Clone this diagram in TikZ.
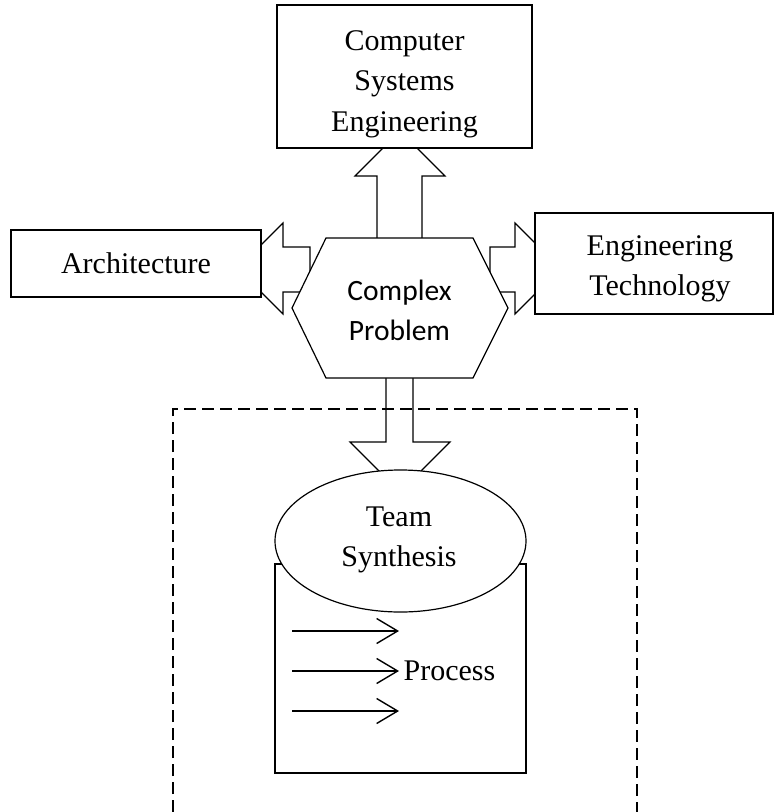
\documentclass[tikz,border=0pt]{standalone}
\usepackage{fontspec}
\setmainfont{Liberation Serif}
\newfontfamily\calibfont{Carlito}
\usetikzlibrary{arrows.meta,shapes.geometric}
\begin{document}
\begin{tikzpicture}[x=1pt,y=-1pt,line width=1.2pt,
  txt/.style={font=\fontsize{30}{40.5}\selectfont},
  boxnode/.style={draw,fill=white,inner sep=0pt,align=center,txt},
  blockarrow/.style={draw,fill=white,line join=miter},
  flowline/.style={line width=1.3pt,-{Straight Barb[length=21pt,width=25pt,line width=1.4pt]}},
  dashbox/.style={line width=1.2pt,dash pattern=on 12pt off 6pt}]
\useasboundingbox (0,0) rectangle (774,812);
% block arrows (drawn first, shapes cover their tips)
\draw[blockarrow] (377,250) -- (377,176) -- (355,176) -- (400,131) -- (445,176) -- (422,176) -- (422,250) -- cycle;
\draw[blockarrow] (310,247) -- (283,247) -- (283,223) -- (237.5,268.5) -- (283,314) -- (283,292) -- (310,292) -- cycle;
\draw[blockarrow] (490,247) -- (515,247) -- (515,223) -- (560.5,268.5) -- (515,314) -- (515,292) -- (490,292) -- cycle;
\draw[blockarrow] (386,370) -- (386,442) -- (350,442) -- (400,492) -- (450,442) -- (413,442) -- (413,370) -- cycle;
% boxes
\node[boxnode,minimum width=255pt,minimum height=143pt] (cse) at (404.5,76.5) {};
\node[txt,align=center,inner sep=0pt] (cset) at (404.5,84) {Computer\\Systems\\Engineering};
\node[boxnode,minimum width=250pt,minimum height=67pt] (arch) at (136,263.5) {Architecture};
\node[boxnode,minimum width=238pt,minimum height=101pt] (et) at (654,263.5) {};
\node[txt,align=center,inner sep=0pt] (ett) at (660,269) {Engineering\\Technology};
% hexagon
\draw[fill=white,line join=miter] (326,238) -- (473,238) -- (508,308) -- (473,378) -- (326,378) -- (292,308) -- cycle;
\node[align=center,font=\calibfont\fontsize{29.5}{40}\selectfont] (cp) at (399.5,310) {Complex\\Problem};
% process box and ellipse
\node[draw,fill=white,inner sep=0pt,minimum width=251pt,minimum height=209pt] (proc) at (400.5,668.5) {};
\node[ellipse,boxnode,minimum width=251pt,minimum height=142pt] (ts) at (400.5,541) {};
\node[txt,align=center,inner sep=0pt] (tst) at (399,540) {Team\\Synthesis};
% process arrows
\coordinate (a1s) at (292,631); \coordinate (a1e) at (399,631);
\coordinate (a2s) at (292,671); \coordinate (a2e) at (399,671);
\coordinate (a3s) at (292,711); \coordinate (a3e) at (399,711);
\draw[flowline] (a1s) -- (a1e);
\draw[flowline] (a2s) -- (a2e);
\draw[flowline] (a3s) -- (a3e);
\node[txt,anchor=west,inner sep=0pt] (ptxt) at (403,671) {Process};
% dashed frame
\draw[dashbox] (173,812) -- (173,409) -- (637,409) -- (637,812);
\end{tikzpicture}
\end{document}
